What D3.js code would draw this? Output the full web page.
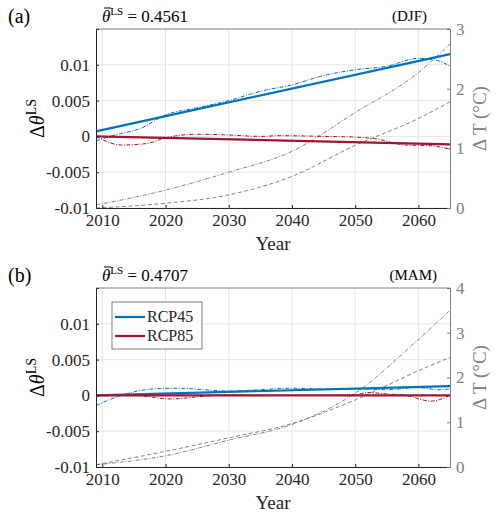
<!DOCTYPE html><html><head><meta charset="utf-8"><script src="https://cdn.jsdelivr.net/npm/d3@7"></script>
<style>body{margin:0;background:#fff}svg text{font-family:"Liberation Serif","DejaVu Serif",serif !important}</style></head><body><svg width="500" height="523"></svg>
<script>
const xTicks=[2010,2020,2030,2040,2050,2060];
const yTicks=[-0.01,-0.005,0,0.005,0.01];
const yTickLabels=["-0.01","-0.005","0","0.005","0.01"];
const panels=[
 {tag:"(a)",season:"(DJF)",theta:"0.4561",tmax:3,
  rcp45Trend:[[2009,0.0007],[2065,0.0115]],
  rcp45:[[2009,-0.0006],[2012,0.0002],[2016,0.0011],[2020,0.003],[2025,0.004],[2030,0.005],[2035,0.0063],[2040,0.0072],[2045,0.0085],[2050,0.0093],[2055,0.0098],[2060,0.0109],[2063,0.0106],[2065,0.0098]],
  rcp85Trend:[[2009,0],[2065,-0.0011]],
  rcp85:[[2009,0],[2013,-0.0012],[2017,-0.001],[2020,-0.0002],[2025,0.0003],[2030,0.0002],[2035,0],[2038,0.0001],[2045,0],[2050,-0.0001],[2053,-0.0003],[2058,-0.0012],[2062,-0.0013],[2065,-0.0018]],
  tDashDot:[[2009,0.05],[2020,0.3],[2030,0.6],[2040,0.95],[2050,1.6],[2060,2.27],[2065,2.75]],
  tDash:[[2009,0],[2020,0.08],[2030,0.22],[2040,0.53],[2050,1.05],[2060,1.5],[2065,1.78]]},
 {tag:"(b)",season:"(MAM)",theta:"0.4707",tmax:4,
  rcp45Trend:[[2009,0],[2065,0.0013]],
  rcp45:[[2009,-0.0014],[2013,0],[2018,0.0009],[2022,0.001],[2026,0.0008],[2030,0.0006],[2035,0.0008],[2040,0.001],[2045,0.0009],[2050,0.0009],[2055,0.0008],[2060,0.0011],[2063,0.0008],[2065,0.0009]],
  rcp85Trend:[[2009,0],[2065,0]],
  rcp85:[[2009,0],[2015,0],[2021,-0.0005],[2025,-0.0002],[2030,0.0001],[2035,0],[2045,0],[2050,0.0001],[2052,0.0004],[2055,0.0002],[2058,0],[2062,-0.0008],[2065,0]],
  tDashDot:[[2009,0.05],[2020,0.25],[2030,0.6],[2040,0.95],[2050,1.65],[2060,2.85],[2065,3.5]],
  tDash:[[2009,0.05],[2020,0.35],[2030,0.65],[2040,0.97],[2050,1.5],[2060,2.15],[2065,2.45]]}
];
const svg=d3.select("svg");
const blue="#0072BD",red="#A2142F",gray="#808080";
const tops=[29,288],h=179,L=96,R=450;
panels.forEach((p,i)=>{
 const t=tops[i],b=t+h;
 const g=svg.append("g");
 const x=d3.scaleLinear().domain([2009,2065]).range([L,R]);
 const y=d3.scaleLinear().domain([-0.01,0.015]).range([b,t]);
 const y2=d3.scaleLinear().domain([0,p.tmax]).range([b,t]);
 xTicks.forEach(v=>g.append("line").attr("x1",x(v)).attr("x2",x(v)).attr("y1",t).attr("y2",b).attr("stroke","#e6e6e6"));
 yTicks.forEach(v=>g.append("line").attr("x1",L).attr("x2",R).attr("y1",y(v)).attr("y2",y(v)).attr("stroke","#e6e6e6"));
 const ln=(sc)=>d3.line().x(d=>x(d[0])).y(d=>sc(d[1])).curve(d3.curveMonotoneX);
 g.append("path").attr("d",ln(y2)(p.tDashDot)).attr("fill","none").attr("stroke","#666").attr("stroke-width",0.8).attr("stroke-dasharray","4,1.5,1,1.5");
 g.append("path").attr("d",ln(y2)(p.tDash)).attr("fill","none").attr("stroke","#666").attr("stroke-width",0.8).attr("stroke-dasharray","4,2.5");
 g.append("path").attr("d",ln(y)(p.rcp45)).attr("fill","none").attr("stroke",blue).attr("stroke-width",1).attr("stroke-dasharray","4,1.5,1,1.5");
 g.append("path").attr("d",ln(y)(p.rcp85)).attr("fill","none").attr("stroke",red).attr("stroke-width",1).attr("stroke-dasharray","4,1.5,1,1.5");
 g.append("path").attr("d",ln(y)(p.rcp45Trend)).attr("fill","none").attr("stroke",blue).attr("stroke-width",2.2);
 g.append("path").attr("d",ln(y)(p.rcp85Trend)).attr("fill","none").attr("stroke",red).attr("stroke-width",2.2);
 const ax=g.append("g").attr("transform",`translate(0,${b})`).call(d3.axisBottom(x).tickValues(xTicks).tickFormat(d3.format("d")).tickSize(-3).tickPadding(6));
 const ay=g.append("g").attr("transform",`translate(${L},0)`).call(d3.axisLeft(y).tickValues(yTicks).tickFormat((d,k)=>yTickLabels[k]).tickSize(-3).tickPadding(6));
 const ay2=g.append("g").attr("transform",`translate(${R},0)`).call(d3.axisRight(y2).ticks(p.tmax).tickFormat(d3.format("d")).tickSize(-3).tickPadding(6));
 [ax,ay].forEach(a=>{a.attr("font-family",null);a.selectAll("text").attr("font-size",17).attr("fill","#262626");a.selectAll("line,path").attr("stroke","#262626");});
 ay2.attr("font-family",null);ay2.selectAll("text").attr("font-size",17).attr("fill",gray);ay2.selectAll("line,path").attr("stroke",gray);
 g.append("line").attr("x1",L).attr("x2",R).attr("y1",t).attr("y2",t).attr("stroke","#262626").attr("stroke-width",0.6);
 g.append("text").attr("x",8).attr("y",t-6).attr("font-size",20).text(p.tag);
 const th=g.append("text").attr("x",102).attr("y",t-7).attr("font-size",17);
 th.append("tspan").attr("font-style","italic").text("θ");th.append("tspan").attr("dy",-7).attr("font-size",11).text("LS");th.append("tspan").attr("dy",7).text(" = "+p.theta);
 g.append("line").attr("x1",104).attr("x2",111).attr("y1",t-21).attr("y2",t-21).attr("stroke","#000").attr("stroke-width",1);
 g.append("text").attr("x",i?437:427).attr("y",t-8).attr("text-anchor","end").attr("font-size",15).text(p.season);
 g.append("text").attr("x",273).attr("y",b+42).attr("text-anchor","middle").attr("font-size",19).attr("fill","#262626").text("Year");
 const yl=g.append("text").attr("transform",`translate(44,${(t+b)/2}) rotate(-90)`).attr("text-anchor","middle").attr("font-size",20);
 yl.append("tspan").text("Δ");yl.append("tspan").attr("font-style","italic").text("θ");yl.append("tspan").attr("dy",-8).attr("font-size",14).text("LS");
 g.append("text").attr("transform",`translate(486,${(t+b)/2}) rotate(-90)`).attr("text-anchor","middle").attr("font-size",19).attr("fill",gray).text("Δ T (°C)");
 if(i===1){
  const lg=g.append("g");
  lg.append("rect").attr("x",112).attr("y",302).attr("width",90).attr("height",47).attr("fill","#fff").attr("stroke","#262626").attr("stroke-width",0.6);
  [["RCP45",blue,317],["RCP85",red,336]].forEach(([n,c,yy])=>{
   lg.append("line").attr("x1",115).attr("x2",145).attr("y1",yy).attr("y2",yy).attr("stroke",c).attr("stroke-width",2.2);
   lg.append("text").attr("x",147).attr("y",yy+5).attr("font-size",16).attr("fill","#262626").text(n);
  });
 }
});
</script></body></html>
